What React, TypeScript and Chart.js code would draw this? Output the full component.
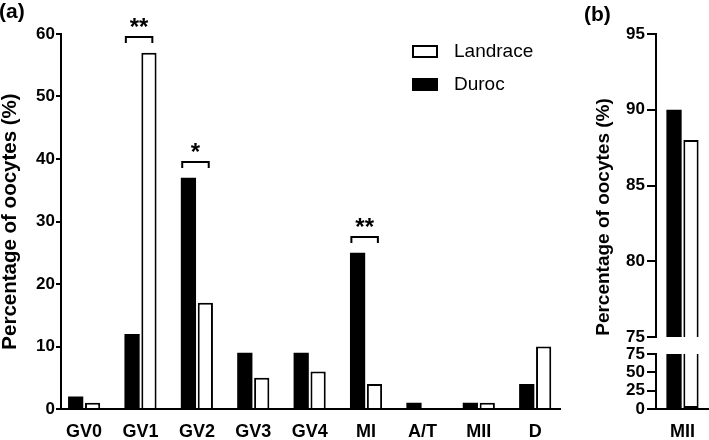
import React, { useEffect, useRef } from 'react';
import { Chart, registerables } from 'chart.js';
Chart.register(...registerables);

// ---- data ----
const categories = ['GV0', 'GV1', 'GV2', 'GV3', 'GV4', 'MI', 'A/T', 'MII', 'D'];
const duroc = [2, 12, 37, 9, 9, 25, 1, 1, 4];
const landrace = [1, 57, 17, 5, 6, 4, 0, 1, 10];
const yTicksA = [0, 10, 20, 30, 40, 50, 60];
const sigCategories = ['GV1', 'GV2', 'MI'];
const sigLabels = ['**', '*', '**'];
const seriesNames = ['Duroc', 'Landrace'];
const yTitle = 'Percentage of oocytes (%)';

const bCategory = ['MII'];
const bDuroc = [90];
const bLandrace = [88];
const bUpperTicks = [75, 80, 85, 90, 95];
const bLowerTicks = [0, 25, 50, 75];

const FONT = "'Liberation Sans', Arial, Helvetica, sans-serif";

const titlePlugin = (x: number, y: number, size: number) => ({
  id: 'ytitle',
  afterDraw(chart: any) {
    const ctx = chart.ctx;
    ctx.save();
    ctx.translate(x, y);
    ctx.rotate(-Math.PI / 2);
    ctx.font = `bold ${size}px ${FONT}`;
    ctx.fillStyle = '#000';
    ctx.textAlign = 'center';
    ctx.textBaseline = 'alphabetic';
    ctx.fillText(yTitle, 0, 0);
    ctx.restore();
  },
});

const sigPlugin = {
  id: 'sig',
  afterDatasetsDraw(chart: any) {
    const ctx = chart.ctx;
    const xs = chart.scales.x;
    const ys = chart.scales.y;
    ctx.save();
    ctx.strokeStyle = '#000';
    ctx.fillStyle = '#000';
    ctx.lineWidth = 2;
    sigCategories.forEach((c, k) => {
      const i = categories.indexOf(c);
      const top = Math.max(duroc[i], landrace[i]) + 2.5;
      const yTop = Math.round(ys.getPixelForValue(top));
      const x1 = xs.getPixelForValue(i - 0.26);
      const x2 = xs.getPixelForValue(i + 0.21);
      ctx.beginPath();
      ctx.moveTo(x1, yTop + 6);
      ctx.lineTo(x1, yTop);
      ctx.lineTo(x2, yTop);
      ctx.lineTo(x2, yTop + 6);
      ctx.stroke();
      ctx.font = `bold 24px ${FONT}`;
      ctx.textAlign = 'center';
      ctx.textBaseline = 'alphabetic';
      ctx.fillText(sigLabels[k], (x1 + x2) / 2, yTop - 16 + 0.58 * 24);
    });
    ctx.restore();
  },
};

const legendPlugin = {
  id: 'customLegend',
  afterDraw(chart: any) {
    const ctx = chart.ctx;
    ctx.save();
    const items = [
      { name: seriesNames[1], fill: '#fff', y: 45 },
      { name: seriesNames[0], fill: '#000', y: 78 },
    ];
    items.forEach((it) => {
      ctx.fillStyle = it.fill;
      ctx.fillRect(412, it.y, 26, 13);
      ctx.strokeStyle = '#000';
      ctx.lineWidth = 2;
      ctx.strokeRect(413, it.y + 1, 24, 11);
      ctx.fillStyle = '#000';
      ctx.font = `19px ${FONT}`;
      ctx.textAlign = 'left';
      ctx.textBaseline = 'middle';
      ctx.fillText(it.name, 454, it.y + 7);
    });
    ctx.restore();
  },
};

export default function App() {
  const aRef = useRef<HTMLCanvasElement>(null);
  const bRef = useRef<HTMLCanvasElement>(null);

  useEffect(() => {
    const tickFont = { family: FONT, size: 17, weight: 'bold' as const };
    const xFont = { family: FONT, size: 18, weight: 'bold' as const };

    const ca = new Chart(aRef.current!, {
      type: 'bar',
      data: {
        datasets: [
          {
            label: seriesNames[0],
            data: duroc.map((v, i) => ({ x: i, y: v })),
            backgroundColor: '#000',
            borderColor: '#000',
            borderWidth: 0,
            barPercentage: 0.9,
            categoryPercentage: 0.6,
          },
          {
            label: seriesNames[1],
            data: landrace.map((v, i) => ({ x: i, y: v })),
            backgroundColor: '#fff',
            borderColor: '#000',
            borderWidth: 2,
            barPercentage: 0.9,
            categoryPercentage: 0.6,
          },
        ] as any,
      },
      options: {
        animation: false,
        responsive: false,
        layout: { padding: { left: 0, top: 34, right: 5, bottom: 0 } },
        plugins: { legend: { display: false }, tooltip: { enabled: false } },
        scales: {
          x: {
            type: 'linear',
            min: -0.41,
            max: 8.44,
            offset: false,
            grid: { display: false },
            border: { display: true, color: '#000', width: 2 },
            afterBuildTicks: (s: any) => {
              s.ticks = categories.map((_, i) => ({ value: i }));
            },
            ticks: {
              callback: (v: any) => categories[v] ?? '',
              font: xFont,
              color: '#000',
              padding: 4,
              autoSkip: false,
              maxRotation: 0,
            },
            afterFit: (s: any) => {
              s.height = 31;
            },
          },
          y: {
            min: 0,
            max: 60,
            afterBuildTicks: (s: any) => {
              s.ticks = yTicksA.map((v) => ({ value: v }));
            },
            grid: { display: true, drawOnChartArea: false, drawTicks: true, tickLength: 5, color: '#000', lineWidth: 2 },
            border: { display: true, color: '#000', width: 2 },
            ticks: { font: tickFont, color: '#000', padding: 1, autoSkip: false },
            afterFit: (s: any) => {
              s.width = 61;
            },
          },
        } as any,
      },
      plugins: [titlePlugin(16, 221.5, 20.5), sigPlugin, legendPlugin],
    });

    const bUpperMin = bUpperTicks[0];
    const bBreak = bLowerTicks[bLowerTicks.length - 1];
    const yCommon = (ticksArr: number[]) => ({
      type: 'linear',
      position: 'left',
      stack: 'b',
      stacked: false,
      min: ticksArr[0],
      max: ticksArr[ticksArr.length - 1],
      afterBuildTicks: (s: any) => {
        s.ticks = ticksArr.map((v) => ({ value: v }));
      },
      grid: { display: true, drawOnChartArea: false, drawTicks: true, tickLength: 9, color: '#000', lineWidth: 2 },
      border: { display: true, color: '#000', width: 2 },
      ticks: { font: tickFont, color: '#000', padding: 2, autoSkip: false },
      afterFit: (s: any) => {
        s.width = 70;
      },
    });

    const cb = new Chart(bRef.current!, {
      type: 'bar',
      data: {
        labels: bCategory,
        datasets: [
          {
            label: seriesNames[0],
            data: bDuroc.map((v) => [bUpperMin, v]),
            yAxisID: 'yU',
            stack: 'd',
            backgroundColor: '#000',
            borderColor: '#000',
            borderWidth: 0,
            barPercentage: 0.9,
            categoryPercentage: 0.64,
          },
          {
            label: seriesNames[1],
            data: bLandrace.map((v) => [bUpperMin, v]),
            yAxisID: 'yU',
            stack: 'l',
            backgroundColor: '#fff',
            borderColor: '#000',
            borderWidth: 2,
            borderSkipped: 'start',
            barPercentage: 0.9,
            categoryPercentage: 0.64,
          },
          {
            label: seriesNames[0],
            data: bDuroc.map((v) => [0, Math.min(v, bBreak)]),
            yAxisID: 'yL',
            stack: 'd',
            backgroundColor: '#000',
            borderColor: '#000',
            borderWidth: 0,
            barPercentage: 0.9,
            categoryPercentage: 0.64,
          },
          {
            label: seriesNames[1],
            data: bLandrace.map((v) => [0, Math.min(v, bBreak)]),
            yAxisID: 'yL',
            stack: 'l',
            backgroundColor: '#fff',
            borderColor: '#000',
            borderWidth: 2,
            borderSkipped: 'end',
            barPercentage: 0.9,
            categoryPercentage: 0.64,
          },
        ] as any,
      },
      options: {
        animation: false,
        responsive: false,
        layout: { padding: { left: 21, top: 34, right: 0, bottom: 0 } },
        plugins: { legend: { display: false }, tooltip: { enabled: false } },
        scales: {
          x: {
            stacked: true,
            offset: true,
            grid: { display: false },
            border: { display: true, color: '#000', width: 2 },
            ticks: { font: xFont, color: '#000', padding: 4, maxRotation: 0 },
            afterFit: (s: any) => {
              s.height = 31;
            },
          },
          yL: { ...yCommon(bLowerTicks), stackWeight: 55 },
          yGap: {
            type: 'linear',
            position: 'left',
            stack: 'b',
            stackWeight: 17,
            display: true,
            grid: { display: false },
            border: { display: false },
            ticks: { display: false },
            afterFit: (s: any) => {
              s.width = 70;
            },
          },
          yU: { ...yCommon(bUpperTicks), stackWeight: 303 },
        } as any,
      },
      plugins: [titlePlugin(44, 217, 19)],
    });

    return () => {
      ca.destroy();
      cb.destroy();
    };
  }, []);

  const labelStyle: React.CSSProperties = {
    position: 'absolute',
    font: `bold 21px ${FONT}`,
    lineHeight: '21px',
    color: '#000',
  };

  return (
    <div style={{ position: 'fixed', left: 0, top: 0, width: 709, height: 440, background: '#fff', overflow: 'hidden' }}>
      <canvas ref={aRef} width={565} height={440} style={{ position: 'absolute', left: 0, top: 0 }} />
      <canvas ref={bRef} width={144} height={440} style={{ position: 'absolute', left: 565, top: 0 }} />
      <div style={{ ...labelStyle, left: -1, top: 0 }}>(a)</div>
      <div style={{ ...labelStyle, left: 584, top: 3 }}>(b)</div>
    </div>
  );
}
